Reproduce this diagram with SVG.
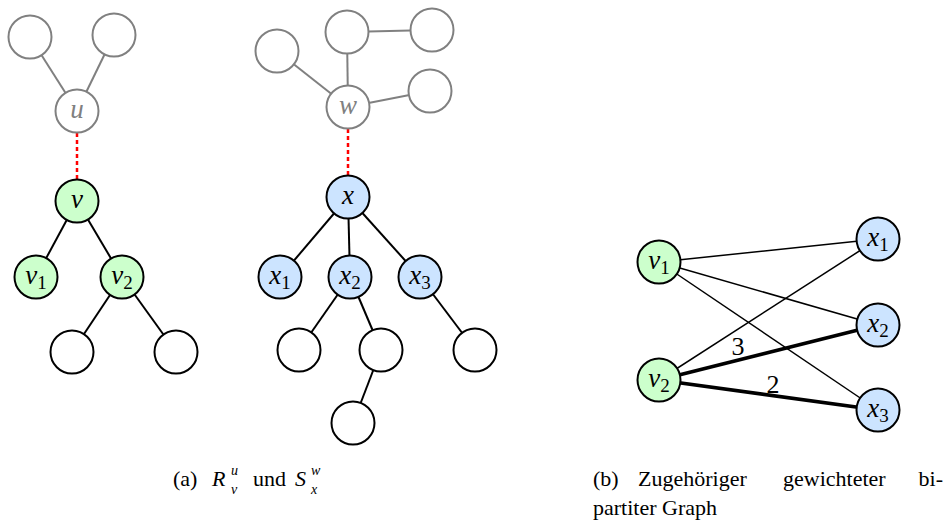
<svg xmlns="http://www.w3.org/2000/svg" width="950" height="532" viewBox="0 0 950 532">
<style>
.g{fill:#fff;stroke:#808080;stroke-width:2}
.n{fill:#fff;stroke:#000;stroke-width:2}
.gr{fill:#ccffcc;stroke:#000;stroke-width:2}
.bl{fill:#cce4ff;stroke:#000;stroke-width:2}
.ge{stroke:#808080;stroke-width:2}
.be{stroke:#000;stroke-width:2}
.th{stroke:#000;stroke-width:1.5}
.tk{stroke:#000;stroke-width:3.5}
.rd{stroke:#ff0000;stroke-width:2.5;stroke-dasharray:4 3}
text{font-family:'Liberation Serif','Times New Roman','DejaVu Serif',serif;fill:#000}
.lb{font-style:italic;font-size:27px;text-anchor:middle}
.lbg{fill:#808080}
.sb{font-style:normal;font-size:19px}
.cap{font-size:22px}
.it{font-style:italic}
.sm{font-size:14px;font-style:italic}
.num{font-size:26px;text-anchor:middle}
</style>
<g id="connectors" fill="none">
<line class="ge" x1="30" y1="37" x2="77" y2="111"/>
<line class="ge" x1="114" y1="35" x2="77" y2="111"/>
<line class="rd" x1="77" y1="133" x2="77" y2="179"/>
<line class="be" x1="77" y1="201" x2="36" y2="277"/>
<line class="be" x1="77" y1="201" x2="122" y2="277"/>
<line class="be" x1="122" y1="277" x2="72" y2="352"/>
<line class="be" x1="122" y1="277" x2="176" y2="352"/>
<line class="ge" x1="277" y1="51" x2="348" y2="107"/>
<line class="ge" x1="347" y1="32" x2="348" y2="107"/>
<line class="ge" x1="347" y1="32" x2="432" y2="30"/>
<line class="ge" x1="430" y1="91" x2="348" y2="107"/>
<line class="rd" x1="348" y1="129" x2="348" y2="175"/>
<line class="be" x1="348" y1="197" x2="280" y2="277"/>
<line class="be" x1="348" y1="197" x2="350" y2="277"/>
<line class="be" x1="348" y1="197" x2="420" y2="277"/>
<line class="be" x1="350" y1="277" x2="299" y2="350"/>
<line class="be" x1="350" y1="277" x2="381" y2="350"/>
<line class="be" x1="381" y1="350" x2="353" y2="423"/>
<line class="be" x1="420" y1="277" x2="475" y2="350"/>
<line class="th" x1="659" y1="262" x2="878" y2="239"/>
<line class="th" x1="659" y1="262" x2="878" y2="325"/>
<line class="th" x1="659" y1="262" x2="878" y2="410"/>
<line class="th" x1="659" y1="380" x2="878" y2="239"/>
<line class="tk" x1="659" y1="380" x2="878" y2="325"/>
<line class="tk" x1="659" y1="380" x2="878" y2="410"/>
</g>
<g id="edge-labels">
<text class="num" x="738" y="355">3</text>
<text class="num" x="773" y="393">2</text>
</g>
<g id="a-tl"><circle class="g" cx="30" cy="37" r="21.5"/></g>
<g id="a-tr"><circle class="g" cx="114" cy="35" r="21.5"/></g>
<g id="u"><circle class="g" cx="77" cy="111" r="21.5"/><text class="lb lbg" x="77" y="118">u</text></g>
<g id="v"><circle class="gr" cx="77" cy="201" r="21.5"/><text class="lb" x="77" y="208">v</text></g>
<g id="v1"><circle class="gr" cx="36" cy="277" r="21.5"/><text class="lb" x="36" y="284">v<tspan class="sb" dy="5">1</tspan></text></g>
<g id="v2"><circle class="gr" cx="122" cy="277" r="21.5"/><text class="lb" x="122" y="284">v<tspan class="sb" dy="5">2</tspan></text></g>
<g id="a-bl"><circle class="n" cx="72" cy="352" r="21.5"/></g>
<g id="a-br"><circle class="n" cx="176" cy="352" r="21.5"/></g>
<g id="b-l"><circle class="g" cx="277" cy="51" r="21.5"/></g>
<g id="b-tm"><circle class="g" cx="347" cy="32" r="21.5"/></g>
<g id="b-tr"><circle class="g" cx="432" cy="30" r="21.5"/></g>
<g id="b-rm"><circle class="g" cx="430" cy="91" r="21.5"/></g>
<g id="w"><circle class="g" cx="348" cy="107" r="21.5"/><text class="lb lbg" x="348" y="114">w</text></g>
<g id="x"><circle class="bl" cx="348" cy="197" r="21.5"/><text class="lb" x="348" y="204">x</text></g>
<g id="x1"><circle class="bl" cx="280" cy="277" r="21.5"/><text class="lb" x="280" y="284">x<tspan class="sb" dy="5">1</tspan></text></g>
<g id="x2"><circle class="bl" cx="350" cy="277" r="21.5"/><text class="lb" x="350" y="284">x<tspan class="sb" dy="5">2</tspan></text></g>
<g id="x3"><circle class="bl" cx="420" cy="277" r="21.5"/><text class="lb" x="420" y="284">x<tspan class="sb" dy="5">3</tspan></text></g>
<g id="b-c1"><circle class="n" cx="299" cy="350" r="21.5"/></g>
<g id="b-c2"><circle class="n" cx="381" cy="350" r="21.5"/></g>
<g id="b-c3"><circle class="n" cx="475" cy="350" r="21.5"/></g>
<g id="b-c4"><circle class="n" cx="353" cy="423" r="21.5"/></g>
<g id="bp-v1"><circle class="gr" cx="659" cy="262" r="21.5"/><text class="lb" x="659" y="269">v<tspan class="sb" dy="5">1</tspan></text></g>
<g id="bp-v2"><circle class="gr" cx="659" cy="380" r="21.5"/><text class="lb" x="659" y="387">v<tspan class="sb" dy="5">2</tspan></text></g>
<g id="bp-x1"><circle class="bl" cx="878" cy="239" r="21.5"/><text class="lb" x="878" y="246">x<tspan class="sb" dy="5">1</tspan></text></g>
<g id="bp-x2"><circle class="bl" cx="878" cy="325" r="21.5"/><text class="lb" x="878" y="332">x<tspan class="sb" dy="5">2</tspan></text></g>
<g id="bp-x3"><circle class="bl" cx="878" cy="410" r="21.5"/><text class="lb" x="878" y="417">x<tspan class="sb" dy="5">3</tspan></text></g>
<g id="caption-a">
<text class="cap" x="173" y="486">(a)</text>
<text class="cap it" x="212" y="486">R</text>
<text class="sm" x="231" y="475">u</text>
<text class="sm" x="231" y="494">v</text>
<text class="cap" x="253" y="486">und</text>
<text class="cap it" x="295" y="486">S</text>
<text class="sm" x="311" y="475">w</text>
<text class="sm" x="311" y="494">x</text>
</g>
<g id="caption-b">
<text class="cap" x="593" y="486">(b)</text>
<text class="cap" x="638" y="486">Zugehöriger</text>
<text class="cap" x="783" y="486">gewichteter</text>
<text class="cap" x="943" y="486" text-anchor="end">bi-</text>
<text class="cap" x="593" y="515">partiter Graph</text>
</g>
</svg>
